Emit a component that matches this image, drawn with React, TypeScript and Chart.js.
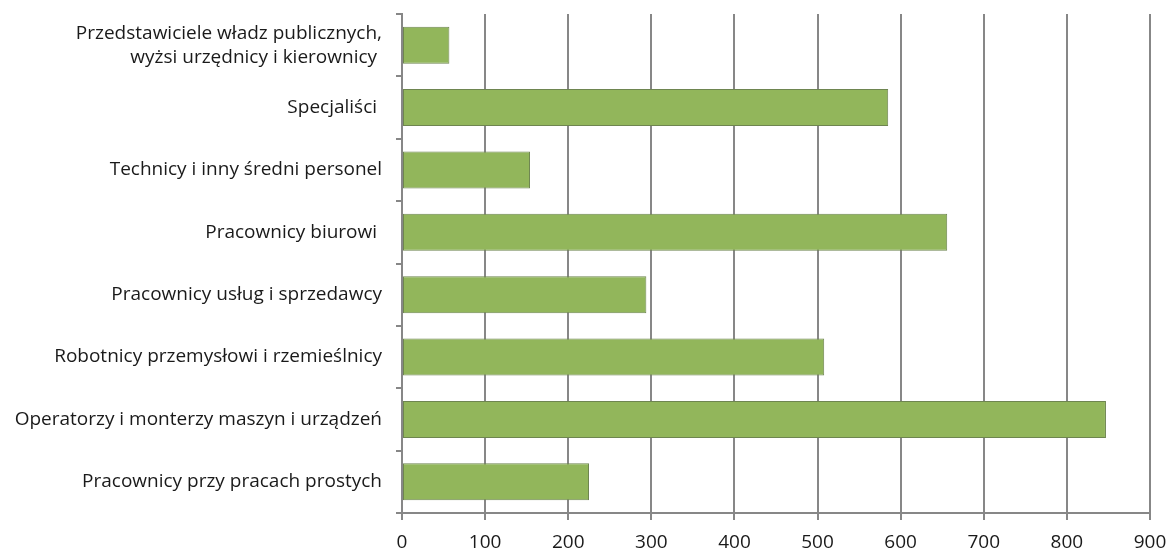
import React, { useEffect, useRef } from "react";
import { Chart, registerables } from "chart.js";

Chart.register(...registerables);

const categories: (string | string[])[] = [
  ["Przedstawiciele władz publicznych,", "wyżsi urzędnicy i kierownicy "],
  "Specjaliści ",
  "Technicy i inny średni personel",
  "Pracownicy biurowi ",
  "Pracownicy usług i sprzedawcy",
  "Robotnicy przemysłowi i rzemieślnicy",
  "Operatorzy i monterzy maszyn i urządzeń",
  "Pracownicy przy pracach prostych",
];

const values: number[] = [57, 585, 154, 656, 294, 508, 847, 225];

const xMin = 0;
const xMax = 900;
const xStep = 100;

export default function App() {
  const canvasRef = useRef<HTMLCanvasElement | null>(null);

  useEffect(() => {
    if (!canvasRef.current) return;
    const gridColor = "#878787";
    const font = { family: "'Open Sans', sans-serif", size: 19, lineHeight: 1.27 };
    const chart = new Chart(canvasRef.current, {
      type: "bar",
      data: {
        labels: categories,
        datasets: [
          {
            data: values,
            backgroundColor: "#92b65b",
            borderColor: "#6e8550",
            borderWidth: 1,
            borderSkipped: false,
            barPercentage: 0.593,
            categoryPercentage: 1,
          },
        ],
      },
      options: {
        indexAxis: "y",
        animation: false,
        responsive: true,
        maintainAspectRatio: false,
        layout: { padding: { top: 14, right: 17, left: 0, bottom: 0 } },
        plugins: {
          legend: { display: false },
          tooltip: { enabled: false },
          title: { display: false },
        },
        scales: {
          x: {
            min: xMin,
            max: xMax,
            ticks: { stepSize: xStep, color: "#1a1a1a", font, padding: 11 },
            grid: { color: gridColor, lineWidth: 2, tickLength: 7 },
            border: { color: gridColor, width: 2 },
            afterFit: (scale: any) => {
              scale.height = 37;
              scale.paddingLeft = 0;
              scale.paddingRight = 0;
            },
          },
          y: {
            offset: true,
            ticks: { color: "#1a1a1a", font, padding: 14, autoSkip: false },
            grid: {
              offset: true,
              drawOnChartArea: false,
              color: gridColor,
              lineWidth: 2,
              tickLength: 6,
            },
            border: { color: gridColor, width: 2 },
            afterFit: (scale: any) => {
              scale.width = 402;
              scale.paddingTop = 0;
              scale.paddingBottom = 0;
            },
          },
        },
      },
    });
    return () => chart.destroy();
  }, []);

  return (
    <div
      style={{
        position: "absolute",
        left: 0,
        top: 0,
        width: 1167,
        height: 550,
        background: "#ffffff",
      }}
    >
      <canvas ref={canvasRef} />
    </div>
  );
}
